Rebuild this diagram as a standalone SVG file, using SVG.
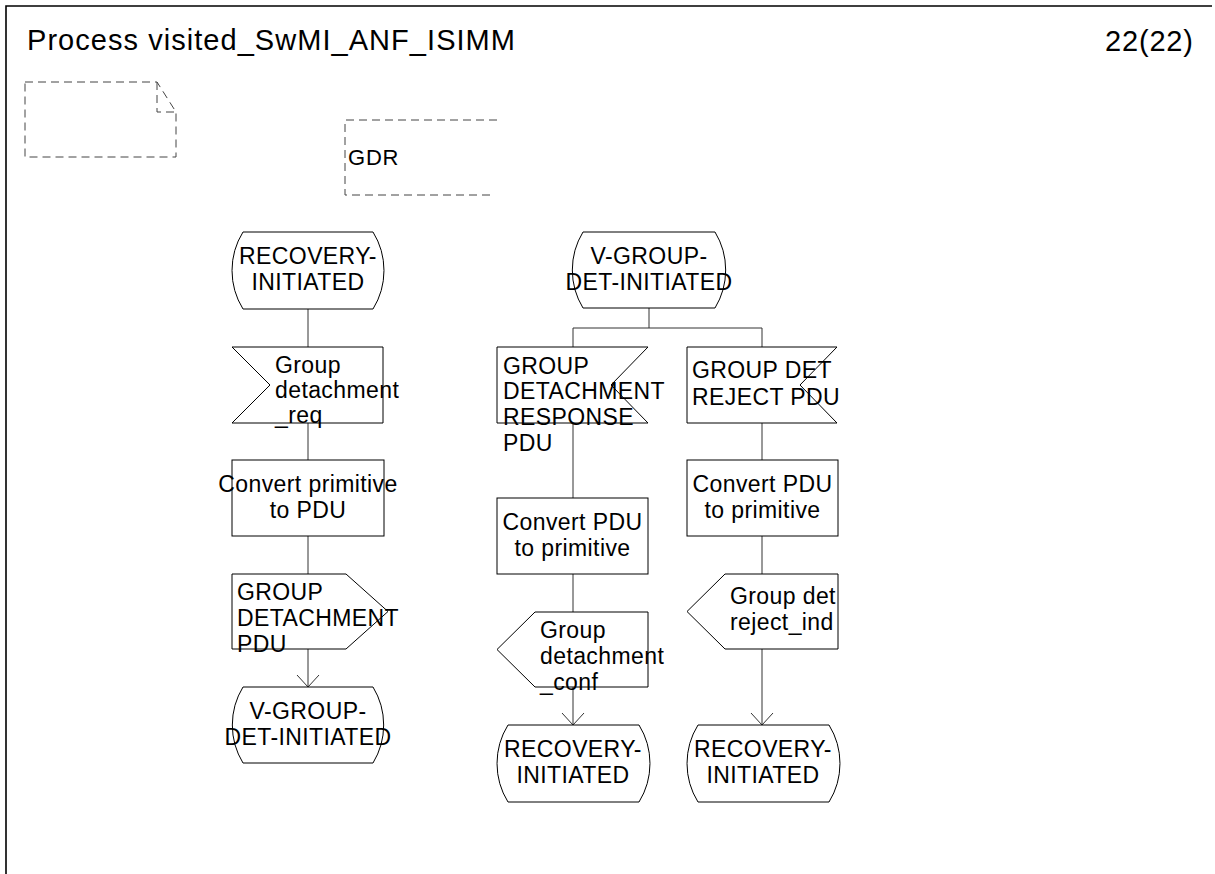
<svg xmlns="http://www.w3.org/2000/svg" width="1215" height="874" viewBox="0 0 1215 874">
<style>
.frame{fill:none;stroke:#000;stroke-width:1.6}
.shape{fill:#fff;stroke:#000;stroke-width:1}
.dash{fill:none;stroke:#444;stroke-width:1;stroke-dasharray:8 5}
.conn{fill:none;stroke:#333;stroke-width:1}
.t{font-family:"Liberation Sans",Arial,sans-serif;font-size:23px;letter-spacing:0.4px;fill:#000}
.c{text-anchor:middle}
.hdr{font-family:"Liberation Sans",Arial,sans-serif;font-size:29px;fill:#000}
</style>
<defs>
<marker id="arr" markerUnits="userSpaceOnUse" markerWidth="26" markerHeight="26" viewBox="-13 -13 26 26" refX="0" refY="0" orient="auto">
<path d="M-12 -11 L0 0 L-12 11" fill="none" stroke="#333" stroke-width="1"/>
</marker>
</defs>
<rect width="1215" height="874" fill="#fff"/>
<path class="frame" d="M6 874 V6 H1212"/>
<text class="hdr" x="27" y="50" textLength="488" lengthAdjust="spacing">Process visited_SwMI_ANF_ISIMM</text>
<text class="hdr" x="1105" y="51" textLength="88" lengthAdjust="spacing">22(22)</text>

<g id="textsymbol">
<path class="dash" d="M25 82 H157 L176 112 V157 H25 Z"/>
<path class="dash" d="M157 82 V112 H176"/>
</g>
<g id="gdr">
<path class="dash" d="M497 120 H345 V195 H492"/>
<text class="t" x="348" y="165" style="font-size:22px;letter-spacing:0.8px">GDR</text>
</g>

<g id="connectors">
<line class="conn" x1="308" y1="309" x2="308" y2="347"/>
<line class="conn" x1="308" y1="423" x2="308" y2="460"/>
<line class="conn" x1="308" y1="536" x2="308" y2="574"/>
<line class="conn" x1="308" y1="649" x2="308" y2="687" marker-end="url(#arr)"/>
<line class="conn" x1="649" y1="308" x2="649" y2="328"/>
<polyline class="conn" points="573,347 573,328 762,328 762,347"/>
<line class="conn" x1="573" y1="423" x2="573" y2="498"/>
<line class="conn" x1="573" y1="574" x2="573" y2="612"/>
<line class="conn" x1="573" y1="687" x2="573" y2="725" marker-end="url(#arr)"/>
<line class="conn" x1="762" y1="423" x2="762" y2="460"/>
<line class="conn" x1="762" y1="536" x2="762" y2="574"/>
<line class="conn" x1="762" y1="649" x2="762" y2="725" marker-end="url(#arr)"/>
</g>

<g id="state_recovery_1">
<path class="shape" d="M243 232 H373 A73 73 0 0 1 373 309 H243 A73 73 0 0 1 243 232 Z"/>
<text class="t c" x="308" y="264">RECOVERY-</text>
<text class="t c" x="308" y="290">INITIATED</text>
</g>
<g id="input_group_detachment_req">
<path class="shape" d="M232 347 H383 V423 H232 L270 385 Z"/>
<text class="t" x="275" y="373">Group</text>
<text class="t" x="275" y="398">detachment</text>
<text class="t" x="275" y="423">_req</text>
</g>
<g id="task_convert_primitive">
<rect class="shape" x="232" y="460" width="152" height="76"/>
<text class="t c" x="308" y="492">Convert primitive</text>
<text class="t c" x="308" y="518">to PDU</text>
</g>
<g id="output_group_detachment_pdu">
<path class="shape" d="M232 574 H346 L388 611.5 L346 649 H232 Z"/>
<text class="t" x="237" y="600">GROUP</text>
<text class="t" x="237" y="626">DETACHMENT</text>
<text class="t" x="237" y="652">PDU</text>
</g>
<g id="state_vgroup_1">
<path class="shape" d="M243 687 H373 A73 73 0 0 1 373 763 H243 A73 73 0 0 1 243 687 Z"/>
<text class="t c" x="308" y="719">V-GROUP-</text>
<text class="t c" x="308" y="745">DET-INITIATED</text>
</g>

<g id="state_vgroup_2">
<path class="shape" d="M583 232 H715 A73 73 0 0 1 715 308 H583 A73 73 0 0 1 583 232 Z"/>
<text class="t c" x="649" y="264">V-GROUP-</text>
<text class="t c" x="649" y="290">DET-INITIATED</text>
</g>
<g id="input_group_detachment_response">
<path class="shape" d="M497 347 H648 L611 385 L648 423 H497 Z"/>
<text class="t" x="503" y="374">GROUP</text>
<text class="t" x="503" y="399">DETACHMENT</text>
<text class="t" x="503" y="425">RESPONSE</text>
<text class="t" x="503" y="451">PDU</text>
</g>
<g id="task_convert_pdu_1">
<rect class="shape" x="497" y="498" width="151" height="76"/>
<text class="t c" x="572.5" y="530">Convert PDU</text>
<text class="t c" x="572.5" y="556">to primitive</text>
</g>
<g id="output_group_detachment_conf">
<path class="shape" d="M535 612 H648 V687 H535 L497 649.5 Z"/>
<text class="t" x="540" y="638">Group</text>
<text class="t" x="540" y="664">detachment</text>
<text class="t" x="540" y="690">_conf</text>
</g>
<g id="state_recovery_2">
<path class="shape" d="M508 725 H639 A73 73 0 0 1 639 802 H508 A73 73 0 0 1 508 725 Z"/>
<text class="t c" x="573" y="757">RECOVERY-</text>
<text class="t c" x="573" y="783">INITIATED</text>
</g>

<g id="input_group_det_reject">
<path class="shape" d="M687 347 H837 L800 385 L837 423 H687 Z"/>
<text class="t" x="692" y="378">GROUP DET</text>
<text class="t" x="692" y="405">REJECT PDU</text>
</g>
<g id="task_convert_pdu_2">
<rect class="shape" x="687" y="460" width="151" height="76"/>
<text class="t c" x="762.5" y="492">Convert PDU</text>
<text class="t c" x="762.5" y="518">to primitive</text>
</g>
<g id="output_group_det_reject_ind">
<path class="shape" d="M725 574 H838 V649 H725 L687 611.5 Z"/>
<text class="t" x="730" y="604">Group det</text>
<text class="t" x="730" y="630">reject_ind</text>
</g>
<g id="state_recovery_3">
<path class="shape" d="M698 725 H829 A73 73 0 0 1 829 802 H698 A73 73 0 0 1 698 725 Z"/>
<text class="t c" x="763" y="757">RECOVERY-</text>
<text class="t c" x="763" y="783">INITIATED</text>
</g>
</svg>
